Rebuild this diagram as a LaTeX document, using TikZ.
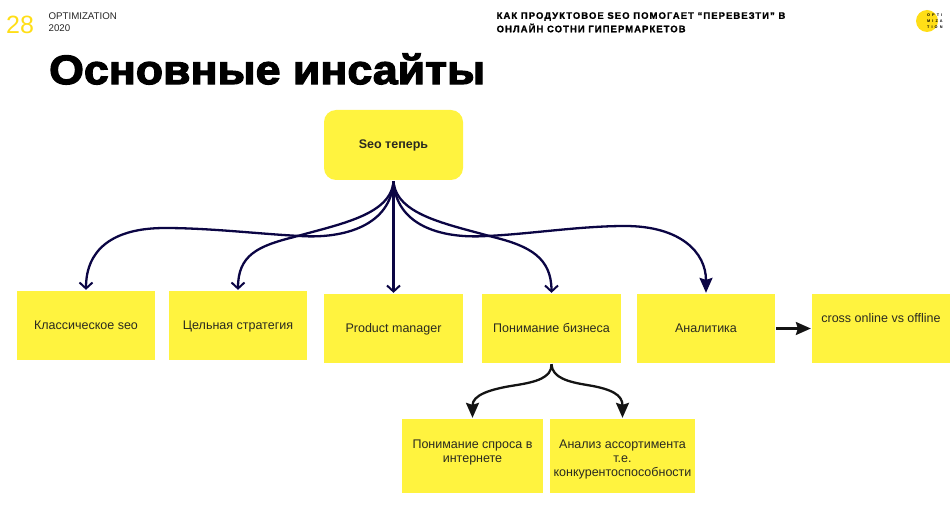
\documentclass[tikz,border=0pt]{standalone}
\usepackage{fontspec}
\setmainfont{Liberation Sans}
\newfontfamily\blackfont[FakeBold=3,FakeStretch=1.09]{Liberation Sans Bold}
\newfontfamily\headfont[FakeBold=1.2,LetterSpace=11]{Liberation Sans Bold}
\newfontfamily\logofont[LetterSpace=55]{Liberation Sans Bold}
\usetikzlibrary{arrows.meta}

\definecolor{cardyellow}{HTML}{FFF33F}
\definecolor{numyellow}{HTML}{FFDE17}
\definecolor{linknavy}{HTML}{0B0544}
\definecolor{linkdark}{HTML}{141414}
\definecolor{cardtext}{HTML}{2A2A20}

\begin{document}
\begin{tikzpicture}[
            x = 1pt,
            y = -1pt,
            line width = 2.3pt % line style
        ]

        \tikzset{
            card/.style = {
                fill = cardyellow,
                text = cardtext,
                inner sep = 0pt,
                text depth = 1pt,
                align = center,
                font = \fontsize{12.5}{14}\selectfont
            },
            bar/.style = {->, >={Straight Barb[length=6pt,width=13pt,line width=2pt]}, linknavy},
            tip/.style = {->, >={Stealth[length=15pt,width=13pt,inset=2pt]}, linknavy},
            tipdark/.style = {->, >={Stealth[length=15pt,width=13pt,inset=2pt]}, linkdark},
            plain/.style = {inner sep = 0pt, anchor = west}
        }

        \useasboundingbox (0,0) rectangle (950,513);

        % header
        \node[plain, text = numyellow, font = \fontsize{25}{25}\selectfont] (num) at (5,25) {28};
        \node[plain, text = black!85, font = \fontsize{9.7}{9.7}\selectfont] (conf) at (47.5,16) {OPTIMIZATION};
        \node[plain, text = black!85, font = \fontsize{9.7}{9.7}\selectfont] (year) at (47.5,28) {2020};
        \node[plain, font = \fontsize{41}{41}\blackfont] (title) at (48,69) {Основные инсайты};
        \node[plain, font = \fontsize{9.5}{9.5}\headfont] (talk1) at (495.5,16.5) {КАК ПРОДУКТОВОЕ SEO ПОМОГАЕТ “ПЕРЕВЕЗТИ” В};
        \node[plain, font = \fontsize{9.5}{9.5}\headfont] (talk2) at (495.5,28) {ОНЛАЙН СОТНИ ГИПЕРМАРКЕТОВ};

        % logo
        \node[circle, fill = numyellow, minimum size = 22pt, inner sep = 0pt] (logo) at (927,21) {};
        \node[plain, font = \fontsize{3.8}{6}\logofont, align = left] (logotext) at (926,21) {OPTI\\MIZA\\TION};

        % boxes
        \node[card, minimum width = 139pt, minimum height = 70pt, rounded corners = 12pt, font = \fontsize{12.5}{14}\selectfont\bfseries] (seo) at (393.5,145) {Seo теперь};
        \node[card, minimum width = 138pt, minimum height = 69pt] (classic) at (86,325.5) {Классическое seo};
        \node[card, minimum width = 138pt, minimum height = 69pt] (strategy) at (238,325.5) {Цельная стратегия};
        \node[card, minimum width = 139pt, minimum height = 69pt] (product) at (393.5,328.5) {Product manager};
        \node[card, minimum width = 139pt, minimum height = 69pt] (business) at (551.5,328.5) {Понимание бизнеса};
        \node[card, minimum width = 138pt, minimum height = 69pt] (analytics) at (706,328.5) {Аналитика};
        \node[card, minimum width = 138pt, minimum height = 69pt] (cross) at (881,328.5) {cross online vs offline\\[6pt]\mbox{}};
        \node[card, minimum width = 141pt, minimum height = 74pt] (demand) at (472.5,456) {\rule{0pt}{13pt}Понимание спроса в\\интернете\\\mbox{}};
        \node[card, minimum width = 145pt, minimum height = 74pt] (range) at (622.5,456) {\rule{0pt}{13pt}Анализ ассортимента\\т.е.\\конкурентоспособности};

        % links
        \draw[bar] (seo.south) .. controls (391,225) and (345,239) .. (300,236)
            .. controls (260,234) and (210,228) .. (165,228)
            .. controls (112,228) and (86,250) .. (classic.north);
        \draw[bar] (seo.south) .. controls (391,215) and (340,224) .. (294,237)
            .. controls (258,246) and (238,255) .. (strategy.north);
        \draw[bar] (seo.south) -- (product.north);
        \draw[bar] (seo.south) .. controls (396,215) and (447,224) .. (493,237)
            .. controls (530,246) and (551.5,258) .. (business.north);
        \draw[tip] (seo.south) .. controls (396,225) and (440,239) .. (487,236)
            .. controls (530,234) and (580,226) .. (625,226)
            .. controls (680,226) and (706,252) .. (analytics.north);
        \draw[tipdark] (analytics.east) -- (cross.west);
        \draw[tipdark] (business.south) .. controls (552,378) and (535,382) .. (517,385)
            .. controls (490,389) and (472.5,395) .. (demand.north);
        \draw[tipdark] (business.south) .. controls (552,378) and (569,382) .. (587,385)
            .. controls (612,389) and (622.5,395) .. (range.north);

    \end{tikzpicture}
\end{document}
